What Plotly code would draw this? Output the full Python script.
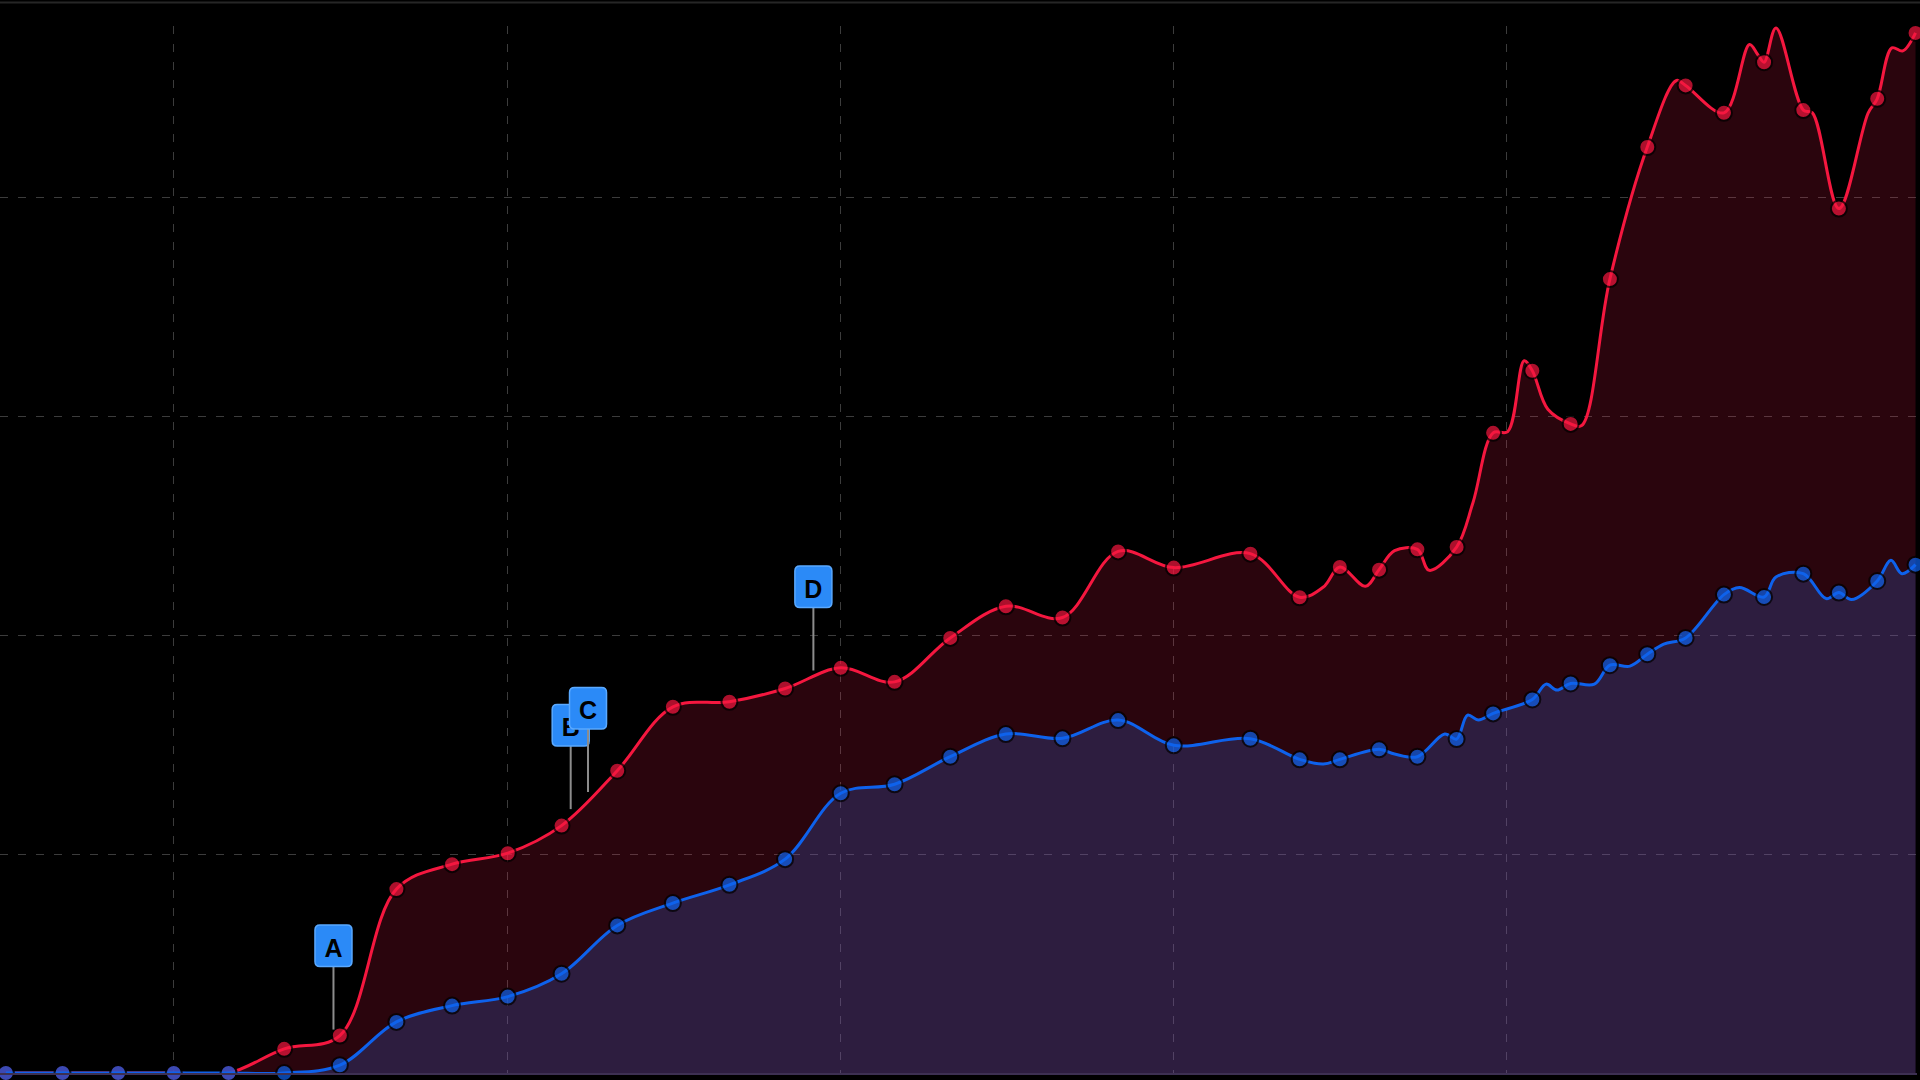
import numpy as np
import pandas as pd
import plotly.graph_objects as go

# ---------------- data ----------------
red_dates = [
    "2015-07-01", "2015-09-01", "2015-11-01", "2016-01-01", "2016-03-01", "2016-05-01",
    "2016-07-01", "2016-09-01", "2016-11-01", "2017-01-01", "2017-03-01", "2017-05-01",
    "2017-07-01", "2017-09-01", "2017-11-01", "2018-01-01", "2018-03-01", "2018-05-01",
    "2018-07-01", "2018-09-01", "2018-11-01", "2019-01-01", "2019-03-26", "2019-05-19",
    "2019-06-14", "2019-07-02", "2019-07-30", "2019-08-14", "2019-08-31", "2019-09-25",
    "2019-10-08", "2019-11-07", "2019-11-25", "2019-12-17", "2020-01-02", "2020-01-20",
    "2020-01-29", "2020-02-15", "2020-03-11", "2020-03-23", "2020-04-23", "2020-06-03",
    "2020-07-05", "2020-07-15", "2020-08-26", "2020-09-23", "2020-10-02", "2020-10-09",
    "2020-10-22", "2020-11-21", "2020-12-01", "2020-12-30", "2021-01-31", "2021-02-10",
    "2021-02-26", "2021-03-10", "2021-03-24",
]
red_values = [
    0, 0, 0, 0, 0, 5.52,
    8.56, 42.03, 47.73, 50.24, 56.54, 69.09,
    83.70, 84.84, 87.89, 92.60, 89.40, 99.44,
    106.67, 104.10, 119.22, 115.51, 118.70, 108.73,
    111.08, 115.64, 111.24, 115.05, 119.38, 119.68,
    114.89, 120.21, 130.40, 146.31, 146.60, 162.80,
    160.52, 151.70, 148.36, 147.97, 181.45, 211.64,
    226.85, 225.72, 219.46, 235.07, 232.80, 231.03,
    238.86, 220.08, 219.45, 197.56, 219.40, 222.66,
    234.30, 233.60, 237.72,
]
red_marked = [
    1, 1, 1, 1, 1, 1,
    1, 1, 1, 1, 1, 1,
    1, 1, 1, 1, 1, 1,
    1, 1, 1, 1, 1, 1,
    0, 1, 0, 1, 0, 1,
    0, 1, 0, 1, 0, 0,
    1, 0, 1, 0, 1, 1,
    0, 1, 1, 0, 0, 1,
    0, 1, 0, 1, 0, 1,
    0, 0, 1,
]

blue_dates = [
    "2015-07-01", "2015-09-01", "2015-11-01", "2016-01-01", "2016-03-01", "2016-05-01",
    "2016-07-01", "2016-09-01", "2016-11-01", "2017-01-01", "2017-03-01", "2017-05-01",
    "2017-07-01", "2017-09-01", "2017-11-01", "2018-01-01", "2018-03-01", "2018-05-01",
    "2018-07-01", "2018-09-01", "2018-11-01", "2019-01-01", "2019-03-26", "2019-05-19",
    "2019-06-14", "2019-07-02", "2019-08-14", "2019-08-31", "2019-09-25", "2019-10-25",
    "2019-11-07", "2019-11-19", "2019-12-01", "2019-12-17", "2020-01-29", "2020-02-13",
    "2020-02-25", "2020-03-11", "2020-04-06", "2020-04-23", "2020-05-15", "2020-06-03",
    "2020-06-21", "2020-07-15", "2020-08-26", "2020-09-12", "2020-10-09", "2020-10-22",
    "2020-11-21", "2020-12-16", "2020-12-30", "2021-01-13", "2021-02-10", "2021-02-25",
    "2021-03-09", "2021-03-24",
]
blue_values = [
    0, 0, 0, 0, 0, 0,
    1.78, 11.68, 15.40, 17.46, 22.70, 33.73,
    38.84, 43.01, 48.88, 63.94, 65.99, 72.29,
    77.47, 76.49, 80.66, 74.89, 76.40, 71.69,
    70.62, 71.69, 73.98, 72.90, 72.29, 77.47,
    76.33, 81.80, 80.66, 82.19, 85.38, 88.88,
    87.51, 89.04, 88.88, 93.21, 92.99, 95.72,
    98.00, 99.44, 109.34, 110.94, 108.80, 113.36,
    114.13, 108.43, 109.80, 108.20, 112.45, 117.17,
    114.13, 116.19,
]
blue_marked = [
    1, 1, 1, 1, 1, 1,
    1, 1, 1, 1, 1, 1,
    1, 1, 1, 1, 1, 1,
    1, 1, 1, 1, 1, 1,
    0, 1, 1, 0, 1, 0,
    1, 0, 0, 1, 1, 0,
    0, 1, 0, 1, 0, 1,
    0, 1, 1, 0, 1, 0,
    1, 0, 1, 0, 1, 0,
    0, 1,
]

flag_titles = ["A", "B", "C", "D"]
flag_dates = ["2016-06-24", "2017-03-11", "2017-03-30", "2017-12-02"]

year_ticks = ["2016-01-01", "2017-01-01", "2018-01-01", "2019-01-01", "2020-01-01"]

# ---------------- styling ----------------
RED = "#f5173f"
BLUE = "#0e62ec"
RED_FILL = "rgba(235,30,70,0.18)"
BLUE_FILL = "rgba(54,105,217,0.25)"
GRID = "#3c3c3c"

fig = go.Figure()

for dates, vals, marked, color, fillc in [
    (red_dates, red_values, red_marked, RED, RED_FILL),
    (blue_dates, blue_values, blue_marked, BLUE, BLUE_FILL),
]:
    fig.add_trace(go.Scatter(
        x=dates, y=vals, mode="lines+markers",
        line=dict(color=color, width=3, shape="spline", smoothing=1),
        marker=dict(size=[16 if m else 0 for m in marked], color=color,
                    line=dict(color="black", width=[2 if m else 0 for m in marked])),
        fill="tozeroy", fillcolor=fillc, cliponaxis=False,
        hoverinfo="skip", showlegend=False,
    ))

# flags placed on the red series (linear interpolation like an "onSeries" flag)
red_t = pd.to_datetime(pd.Series(red_dates)).astype("int64").to_numpy()
flag_t = pd.to_datetime(pd.Series(flag_dates)).astype("int64").to_numpy()
flag_y = np.interp(flag_t, red_t, np.array(red_values, dtype=float))

GAP, STEM, BOX_H, BOX_W, R = 7.5, 63.0, 41.5, 37.0, 5.0
y0b = GAP + STEM
y1b = y0b + BOX_H
hw = BOX_W / 2
box_path = (
    f"M {-hw + R},{y0b} L {hw - R},{y0b} Q {hw},{y0b} {hw},{y0b + R} "
    f"L {hw},{y1b - R} Q {hw},{y1b} {hw - R},{y1b} "
    f"L {-hw + R},{y1b} Q {-hw},{y1b} {-hw},{y1b - R} "
    f"L {-hw},{y0b + R} Q {-hw},{y0b} {-hw + R},{y0b} Z"
)

shapes = []
for title, d, yv in zip(flag_titles, flag_dates, flag_y):
    shapes.append(dict(
        type="line", xref="x", yref="y", xsizemode="pixel", ysizemode="pixel",
        xanchor=d, yanchor=float(yv), x0=0, x1=0, y0=GAP, y1=GAP + STEM,
        line=dict(color="#8c8c8c", width=2), layer="above",
    ))
    shapes.append(dict(
        type="path", xref="x", yref="y", xsizemode="pixel", ysizemode="pixel",
        xanchor=d, yanchor=float(yv), path=box_path,
        fillcolor="#2b8af7", line=dict(color="#5aa9ff", width=1.5), layer="above",
        label=dict(text=f"<b>{title}</b>", textposition="middle center",
                   font=dict(family="Liberation Sans", size=25, color="black")),
    ))

# thin border line at the very top of the chart
shapes.append(dict(type="line", xref="paper", yref="paper", x0=0, x1=1.0016,
                   y0=1.02245, y1=1.02245, line=dict(color="#262626", width=2),
                   layer="above"))

fig.update_layout(
    width=1920, height=1080,
    margin=dict(l=0, r=3, t=26, b=7),
    paper_bgcolor="black", plot_bgcolor="black",
    shapes=shapes,
    xaxis=dict(
        type="date", range=["2015-06-24 12:14", "2021-03-25 14:24"],
        tickmode="array", tickvals=year_ticks,
        showgrid=True, gridcolor=GRID, gridwidth=1, griddash="8px,10px",
        showticklabels=False, ticks="", zeroline=False,
        showline=True, linecolor="#3d3052", linewidth=2,
        fixedrange=True,
    ),
    yaxis=dict(
        range=[0, 239.3], dtick=50, tick0=0,
        showgrid=True, gridcolor=GRID, gridwidth=1, griddash="8px,10px",
        showticklabels=False, ticks="", zeroline=False, showline=False,
        fixedrange=True,
    ),
)

fig.write_html(
    "out.html",
    config={"displayModeBar": False, "staticPlot": True},
    post_script="document.body.style.margin='0';document.body.style.overflow='hidden';",
)
